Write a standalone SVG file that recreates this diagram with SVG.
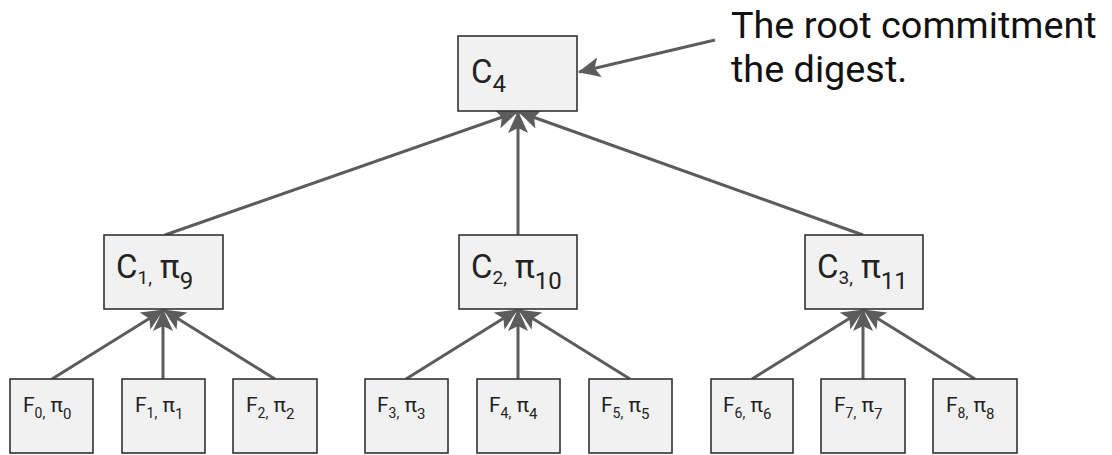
<svg xmlns="http://www.w3.org/2000/svg" width="1112" height="455" viewBox="0 0 1112 455">
<style>
.box{fill:#f1f1f1;stroke:#333;stroke-width:1.6}
.t{font-family:Roboto,"Liberation Sans",sans-serif;fill:#222}
.big{font-size:33px}
.bs1{font-size:19px}
.bs2{font-size:24px}
.leaf{font-size:21px}
.ls1{font-size:14px}
.ls2{font-size:15px}
.ann{font-family:Roboto,"Liberation Sans",sans-serif;font-size:37.8px;fill:#111}
.edge{stroke:#5c5c5c;stroke-width:3;fill:none;marker-end:url(#ah)}
</style>
<defs>
<marker id="ah" viewBox="0 0 22 20" refX="21" refY="10" markerWidth="22" markerHeight="20" markerUnits="userSpaceOnUse" orient="auto">
<path d="M0,0 L22,10 L0,20 L5,10 z" fill="#5c5c5c"/>
</marker>
</defs>
<rect width="1112" height="455" fill="#fff"/>
<g id="connectors">
<line class="edge" x1="165" y1="235" x2="517" y2="112"/>
<line class="edge" x1="518" y1="236" x2="518" y2="112"/>
<line class="edge" x1="863" y1="235" x2="519" y2="112"/>
<line class="edge" x1="52" y1="379" x2="163" y2="310"/>
<line class="edge" x1="163" y1="379" x2="163" y2="310"/>
<line class="edge" x1="275" y1="379" x2="164" y2="310"/>
<line class="edge" x1="406" y1="379" x2="517" y2="310"/>
<line class="edge" x1="518" y1="379" x2="518" y2="310"/>
<line class="edge" x1="630" y1="379" x2="519" y2="310"/>
<line class="edge" x1="752" y1="379" x2="863" y2="310"/>
<line class="edge" x1="863" y1="379" x2="863" y2="310"/>
<line class="edge" x1="975" y1="379" x2="864" y2="310"/>
<line class="edge" x1="715" y1="40" x2="579" y2="72"/>
</g>
<g id="c4"><rect class="box" x="458" y="36" width="119" height="75"/><text class="t big" x="471" y="83">C<tspan class="bs2" dy="9">4</tspan></text></g>
<g id="c1"><rect class="box" x="104" y="235" width="119" height="74"/><text class="t big" x="116" y="278">C<tspan class="bs1" dy="6">1,</tspan><tspan dy="-6"> π</tspan><tspan class="bs2" dy="11">9</tspan></text></g>
<g id="c2"><rect class="box" x="459" y="235" width="118" height="74"/><text class="t big" x="471" y="278">C<tspan class="bs1" dy="6">2,</tspan><tspan dy="-6"> π</tspan><tspan class="bs2" dy="11">10</tspan></text></g>
<g id="c3"><rect class="box" x="805" y="235" width="118" height="74"/><text class="t big" x="817" y="278">C<tspan class="bs1" dy="6">3,</tspan><tspan dy="-6"> π</tspan><tspan class="bs2" dy="11">11</tspan></text></g>
<g id="f0"><rect class="box" x="10" y="379" width="83" height="74"/><text class="t leaf" x="23" y="412">F<tspan class="ls1" dy="6">0,</tspan><tspan dy="-6"> π</tspan><tspan class="ls2" dy="7">0</tspan></text></g>
<g id="f1"><rect class="box" x="122" y="379" width="83" height="74"/><text class="t leaf" x="135" y="412">F<tspan class="ls1" dy="6">1,</tspan><tspan dy="-6"> π</tspan><tspan class="ls2" dy="7">1</tspan></text></g>
<g id="f2"><rect class="box" x="233" y="379" width="84" height="74"/><text class="t leaf" x="246" y="412">F<tspan class="ls1" dy="6">2,</tspan><tspan dy="-6"> π</tspan><tspan class="ls2" dy="7">2</tspan></text></g>
<g id="f3"><rect class="box" x="365" y="379" width="83" height="74"/><text class="t leaf" x="377" y="412">F<tspan class="ls1" dy="6">3,</tspan><tspan dy="-6"> π</tspan><tspan class="ls2" dy="7">3</tspan></text></g>
<g id="f4"><rect class="box" x="477" y="379" width="83" height="74"/><text class="t leaf" x="489" y="412">F<tspan class="ls1" dy="6">4,</tspan><tspan dy="-6"> π</tspan><tspan class="ls2" dy="7">4</tspan></text></g>
<g id="f5"><rect class="box" x="589" y="379" width="83" height="74"/><text class="t leaf" x="601" y="412">F<tspan class="ls1" dy="6">5,</tspan><tspan dy="-6"> π</tspan><tspan class="ls2" dy="7">5</tspan></text></g>
<g id="f6"><rect class="box" x="711" y="379" width="82" height="74"/><text class="t leaf" x="723" y="412">F<tspan class="ls1" dy="6">6,</tspan><tspan dy="-6"> π</tspan><tspan class="ls2" dy="7">6</tspan></text></g>
<g id="f7"><rect class="box" x="821" y="379" width="84" height="74"/><text class="t leaf" x="834" y="412">F<tspan class="ls1" dy="6">7,</tspan><tspan dy="-6"> π</tspan><tspan class="ls2" dy="7">7</tspan></text></g>
<g id="f8"><rect class="box" x="933" y="379" width="84" height="74"/><text class="t leaf" x="946" y="412">F<tspan class="ls1" dy="6">8,</tspan><tspan dy="-6"> π</tspan><tspan class="ls2" dy="7">8</tspan></text></g>
<g id="annotation"><text class="ann" x="731" y="38">The root commitment</text><text class="ann" x="731" y="82">the digest.</text></g>
</svg>
